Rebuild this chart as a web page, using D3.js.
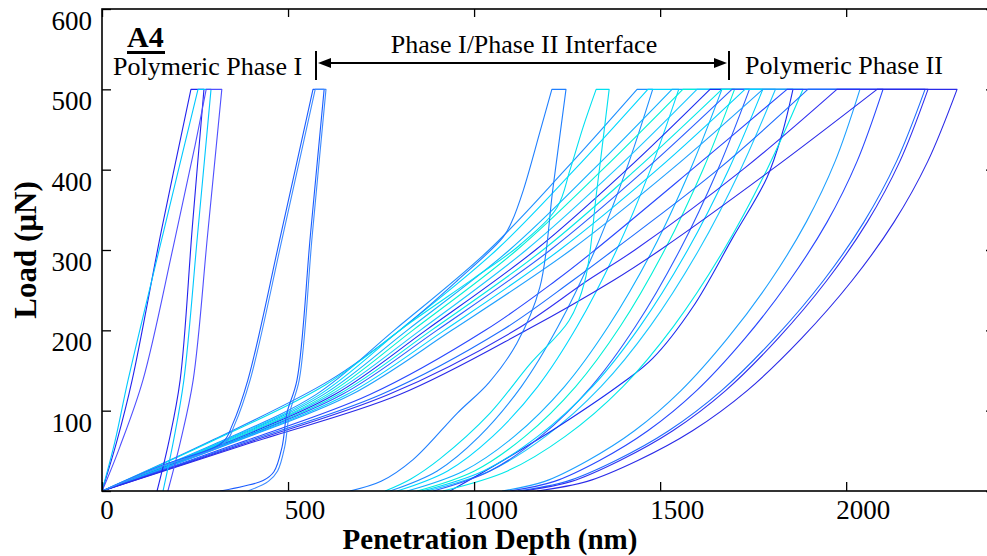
<!DOCTYPE html>
<html>
<head>
<meta charset="utf-8">
<script src="https://cdn.jsdelivr.net/npm/d3@7"></script>
<style>
  body { margin: 0; background: #fff; }
  svg { display: block; }
</style>
</head>
<body>
<svg id="chart" width="987" height="556"></svg>
<script>
// ---- data : [penetration depth (nm), load (uN)] ----
var xTicks = [ 0, 500, 1000, 1500, 2000 ];
var yTicks = [ 0, 100, 200, 300, 400, 500, 600 ];
var yLabels = [ 100, 200, 300, 400, 500, 600 ];

// polymeric phase I indents
var phaseILoad = [
  [ [0,0],[40,62],[81,138],[160,325],[239,500] ],
  [ [0,0],[35,62],[70,138],[165,322],[258,500] ],
  [ [0,0],[13,14],[48,55],[110,138],[191,303],[250,430],[280,500] ],
  [ [0,0],[150,30],[325,61],[350,82],[392,138],[480,318],[567,500] ],
  [ [0,0],[150,29],[330,60],[356,82],[398,138],[486,318],[573,500] ]
];
var phaseIUnload = [
  [ [274,500],[243,330],[210,138],[180,62],[148,0] ],
  [ [293,500],[257,320],[220,138],[192,62],[164,0] ],
  [ [322,500],[284,320],[245,138],[210,60],[177,0] ],
  [ [597,500],[560,318],[524,138],[497,97],[484,55],[462,24],[433,13],[380,6],[317,0] ],
  [ [602,500],[565,318],[530,138],[504,97],[491,55],[472,25],[447,12],[392,0] ]
];
var phaseIColor = [ "#2222ee", "#00c8ff", "#5050ff", "#1a5cff", "#3d8bff" ];

// indents that hit the phase I / phase II interface
var interfaceLoad = [
  [ [0,0],[300,64],[613,138],[800,200],[955,262],[1078,316],[1102,336],[1132,374],[1177,447],[1209,500] ],
  [ [0,0],[295,62],[600,132],[830,210],[1000,265],[1120,305],[1223,353],[1258,400],[1293,453],[1328,500] ]
];
var interfaceUnload = [
  [ [1247,500],[1212,377],[1177,254],[1115,184],[1040,135],[955,97],[836,39],[750,12],[666,0] ],
  [ [1363,500],[1330,375],[1298,262],[1255,212],[1150,158],[1043,97],[908,40],[830,15],[761,0] ]
];
var interfaceColor = [ "#1f7fff", "#00e0f0" ];

// polymeric phase II indents
var phaseIILoad = [
  [ [0,0],[310,60],[575,120],[785,200],[1040,300],[1245,400],[1438,500] ],
  [ [0,0],[315,60],[585,120],[800,200],[1060,300],[1270,400],[1467,500] ],
  [ [0,0],[320,60],[595,120],[820,200],[1095,300],[1320,400],[1532,500] ],
  [ [0,0],[325,60],[605,120],[835,200],[1115,300],[1345,400],[1561,500] ],
  [ [0,0],[330,60],[615,120],[855,200],[1140,300],[1380,400],[1599,500] ],
  [ [0,0],[335,60],[625,120],[870,200],[1165,300],[1410,400],[1634,500] ],
  [ [0,0],[340,60],[635,120],[885,200],[1185,300],[1435,400],[1666,500] ],
  [ [0,0],[343,60],[645,120],[900,200],[1205,300],[1460,400],[1693,500] ],
  [ [0,0],[347,60],[658,120],[920,200],[1230,300],[1492,400],[1728,500] ],
  [ [0,0],[350,60],[670,120],[940,200],[1260,300],[1530,400],[1776,500] ],
  [ [0,0],[370,60],[720,120],[1030,200],[1220,262],[1325,300],[1585,400],[1841,500] ],
  [ [0,0],[380,60],[750,120],[1075,200],[1265,262],[1375,300],[1655,400],[1897,500] ],
  [ [0,0],[390,60],[770,120],[1110,200],[1305,262],[1432,300],[1722,400],[1975,500] ],
  [ [0,0],[400,60],[800,120],[1140,200],[1374,262],[1500,300],[1800,400],[2083,500] ]
];
var phaseIIUnload = [
  [ [1480,500],[1409,400],[1325,300],[1226,205],[1127,130],[1014,68],[901,25],[774,0] ],
  [ [1550,500],[1474,400],[1383,300],[1277,205],[1171,130],[1050,68],[929,25],[793,0] ],
  [ [1666,500],[1581,400],[1480,300],[1361,205],[1243,130],[1108,68],[972,25],[820,0] ],
  [ [1700,500],[1615,400],[1512,300],[1393,205],[1273,130],[1137,68],[1001,25],[847,0] ],
  [ [1810,500],[1716,400],[1604,300],[1473,205],[1341,130],[1192,68],[1042,25],[873,0] ],
  [ [1857,500],[1828,445],[1787,390],[1696,316],[1588,229],[1480,165],[1400,135],[1239,84],[1078,38],[935,0] ],
  [ [1884,500],[1787,400],[1671,300],[1536,205],[1400,130],[1245,68],[1090,25],[916,0] ],
  [ [1740,500],[1655,400],[1553,300],[1434,205],[1315,130],[1179,68],[1043,25],[890,0] ],
  [ [1776,500],[1684,400],[1574,300],[1446,205],[1318,130],[1171,68],[1025,25],[860,0] ],
  [ [2037,500],[1970,410],[1893,335],[1797,262],[1681,190],[1556,125],[1431,75],[1306,38],[1190,12],[1075,0] ],
  [ [2099,500],[2029,410],[1949,335],[1848,262],[1728,190],[1598,125],[1467,75],[1337,38],[1216,12],[1096,0] ],
  [ [2212,500],[2135,410],[2048,335],[1939,262],[1807,190],[1665,125],[1523,75],[1381,38],[1249,12],[1118,0] ],
  [ [2220,500],[2144,410],[2057,335],[1948,262],[1817,190],[1676,125],[1534,75],[1392,38],[1262,12],[1131,0] ],
  [ [2298,500],[2219,410],[2129,335],[2016,262],[1880,190],[1734,125],[1587,75],[1440,38],[1304,12],[1169,0] ]
];
var phaseIIColor = [ "#1e90ff", "#00d8ff", "#10b0ff", "#00f0d8", "#18c8ff", "#1a2cf0", "#00e8e8",
                     "#2a5cff", "#00d0ff", "#1ea0ff", "#2848ff", "#1e6cff", "#3030f0", "#2a2ae8" ];

// ---- layout ----
var plot = { left: 102, top: 9, right: 995, bottom: 491 };
var serif = "'Liberation Serif', 'Times New Roman', Times, serif";

var svg = d3.select( "#chart" ).attr( "font-family", serif );

var x = d3.scaleLinear().domain( [ 0, 2400 ] ).range( [ plot.left, plot.right ] );
var y = d3.scaleLinear().domain( [ 0, 600 ] ).range( [ plot.bottom, plot.top ] );

svg.append( "defs" ).append( "clipPath" ).attr( "id", "plot-clip" )
  .append( "rect" )
  .attr( "x", plot.left ).attr( "y", plot.top )
  .attr( "width", plot.right - plot.left ).attr( "height", plot.bottom - plot.top );

var curve = d3.line()
  .x( function( d ){ return x( d[ 0 ] ); } )
  .y( function( d ){ return y( d[ 1 ] ); } )
  .curve( d3.curveCatmullRom.alpha( 0.5 ) );

var curves_g = svg.append( "g" ).attr( "clip-path", "url(#plot-clip)" );

// loading branch, hold at peak load, unloading branch
function drawIndents( loads, unloads, colors ){
  for( var i = 0 ; i < loads.length ; i++ ){
    var d = curve( loads[ i ] ) + curve( unloads[ i ] ).replace( /^M/, "L" );
    curves_g.append( "path" )
      .attr( "d", d )
      .attr( "fill", "none" )
      .attr( "stroke", colors[ i ] )
      .attr( "stroke-width", 1.1 )
      .attr( "stroke-linejoin", "round" );
  }
}

drawIndents( phaseIILoad, phaseIIUnload, phaseIIColor );
drawIndents( interfaceLoad, interfaceUnload, interfaceColor );
drawIndents( phaseILoad, phaseIUnload, phaseIColor );

// ---- axes (box with inward ticks) ----
function styleAxis( g ){
  g.select( ".domain" ).remove();
  g.selectAll( "line" ).attr( "stroke", "#000" ).attr( "stroke-width", 1.3 );
  g.selectAll( "text" ).remove();
}

svg.append( "g" ).attr( "transform", "translate(0," + plot.bottom + ")" )
  .call( d3.axisBottom( x ).tickValues( xTicks ).tickSize( -9 ) ).call( styleAxis );
svg.append( "g" ).attr( "transform", "translate(0," + plot.top + ")" )
  .call( d3.axisTop( x ).tickValues( xTicks ).tickSize( -8 ) ).call( styleAxis );
svg.append( "g" ).attr( "transform", "translate(" + plot.left + ",0)" )
  .call( d3.axisLeft( y ).tickValues( yTicks ).tickSize( -9 ) ).call( styleAxis );
svg.append( "g" ).attr( "transform", "translate(" + plot.right + ",0)" )
  .call( d3.axisRight( y ).tickValues( yTicks ).tickSize( -9 ) ).call( styleAxis );

svg.append( "rect" )
  .attr( "x", plot.left ).attr( "y", plot.top )
  .attr( "width", plot.right - plot.left ).attr( "height", plot.bottom - plot.top )
  .attr( "fill", "none" ).attr( "stroke", "#000" ).attr( "stroke-width", 1.6 );

svg.selectAll( ".xlabel" ).data( xTicks ).enter().append( "text" )
  .attr( "class", "xlabel" )
  .attr( "x", function( d ){ return x( d ) + ( d === 0 ? 5 : 17 ); } )
  .attr( "y", 519 )
  .attr( "text-anchor", "middle" )
  .attr( "font-family", serif )
  .attr( "font-size", 27 )
  .text( function( d ){ return d; } );

svg.selectAll( ".ylabel" ).data( yLabels ).enter().append( "text" )
  .attr( "class", "ylabel" )
  .attr( "x", 92 )
  .attr( "y", function( d ){ return y( d ) + 21; } )
  .attr( "text-anchor", "end" )
  .attr( "font-family", serif )
  .attr( "font-size", 27 )
  .text( function( d ){ return d; } );

svg.append( "text" )
  .attr( "x", 490 ).attr( "y", 549 )
  .attr( "text-anchor", "middle" )
  .attr( "font-family", serif )
  .attr( "font-size", 29 ).attr( "font-weight", "bold" )
  .text( "Penetration Depth (nm)" );

svg.append( "text" )
  .attr( "transform", "translate(36,250) rotate(-90)" )
  .attr( "text-anchor", "middle" )
  .attr( "font-family", serif )
  .attr( "font-size", 31 ).attr( "font-weight", "bold" )
  .text( "Load (\u00b5N)" );

// ---- annotations ----
svg.append( "text" )
  .attr( "x", 127 ).attr( "y", 47 )
  .attr( "font-family", serif )
  .attr( "font-size", 30 ).attr( "font-weight", "bold" )
  .text( "A4" );
svg.append( "rect" )
  .attr( "x", 127 ).attr( "y", 51 ).attr( "width", 38 ).attr( "height", 3 )
  .attr( "fill", "#000" );

svg.append( "text" )
  .attr( "x", 113 ).attr( "y", 75 )
  .attr( "font-family", serif )
  .attr( "font-size", 26 )
  .text( "Polymeric Phase I" );

svg.append( "text" )
  .attr( "x", 524 ).attr( "y", 53 )
  .attr( "text-anchor", "middle" )
  .attr( "font-family", serif )
  .attr( "font-size", 26 )
  .text( "Phase I/Phase II Interface" );

svg.append( "text" )
  .attr( "x", 745 ).attr( "y", 74 )
  .attr( "font-family", serif )
  .attr( "font-size", 26 )
  .text( "Polymeric Phase II" );

var arrow_y = 63;
[ 316, 729 ].forEach( function( bx ){
  svg.append( "line" )
    .attr( "x1", bx ).attr( "x2", bx ).attr( "y1", 51 ).attr( "y2", 80 )
    .attr( "stroke", "#000" ).attr( "stroke-width", 2 );
} );
svg.append( "line" )
  .attr( "x1", 326 ).attr( "x2", 719 ).attr( "y1", arrow_y ).attr( "y2", arrow_y )
  .attr( "stroke", "#000" ).attr( "stroke-width", 2.2 );
svg.append( "path" )
  .attr( "d", "M318," + arrow_y + "L331," + ( arrow_y - 5 ) + "L331," + ( arrow_y + 5 ) + "Z" )
  .attr( "fill", "#000" );
svg.append( "path" )
  .attr( "d", "M727," + arrow_y + "L714," + ( arrow_y - 5 ) + "L714," + ( arrow_y + 5 ) + "Z" )
  .attr( "fill", "#000" );
</script>
</body>
</html>
